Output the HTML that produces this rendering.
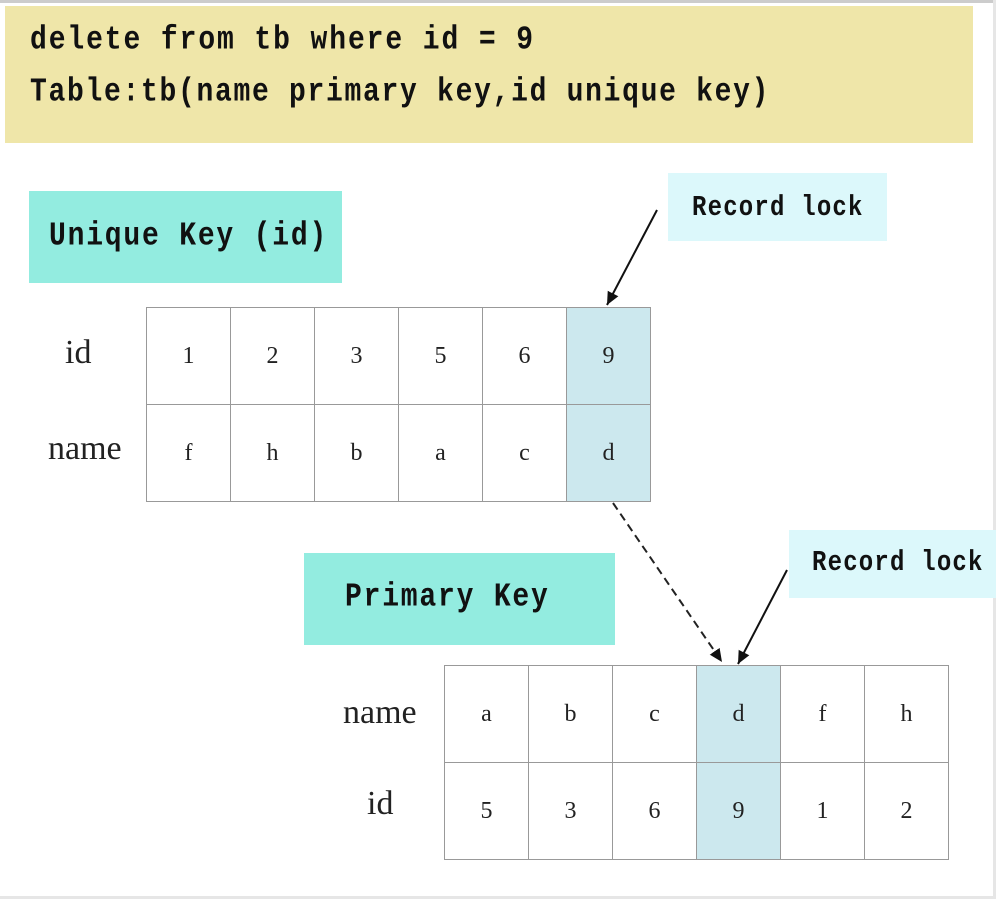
<!DOCTYPE html>
<html><head><style>
body{margin:0;width:996px;height:899px;background:#fff;position:relative;overflow:hidden;font-family:"Liberation Mono",monospace}
.a{position:absolute}
.m{font-family:"Liberation Mono",monospace;color:#111;font-weight:bold;transform-origin:0 50%;transform:scale(1,1.2)}
table{position:absolute;border-collapse:collapse}
td{border:1.5px solid #999;width:83px;height:96px;text-align:center;font-family:"Liberation Serif",serif;font-size:24px;color:#222;padding:0}
td.h{background:#cce8ee}
.lbl{position:absolute;font-family:"Liberation Serif",serif;font-size:34px;color:#222}
</style></head><body>
<div class="a" style="left:0;top:0;width:996px;height:3px;background:#ccc"></div>
<div class="a" style="left:993px;top:0;width:3px;height:899px;background:#e6e6e6"></div>
<div class="a" style="left:0;top:896px;width:996px;height:3px;background:#e6e6e6"></div>
<div class="a" style="left:5px;top:6px;width:968px;height:137px;background:#efe6a9"></div>
<div class="a m" style="left:30px;top:25px;font-size:28px;letter-spacing:1.9px">delete from tb where id = 9</div>
<div class="a m" style="left:30px;top:77px;font-size:28px;letter-spacing:1.7px">Table:tb(name primary key,id unique key)</div>
<div class="a" style="left:29px;top:191px;width:313px;height:92px;background:#93ece0"></div>
<div class="a m" style="left:49px;top:221px;font-size:28px;letter-spacing:1.8px">Unique Key (id)</div>
<div class="a" style="left:668px;top:173px;width:219px;height:68px;background:#dcf8fb"></div>
<div class="a m" style="left:692px;top:195px;font-size:24px;letter-spacing:1.2px">Record lock</div>
<div class="a" style="left:304px;top:553px;width:311px;height:92px;background:#93ece0"></div>
<div class="a m" style="left:345px;top:582px;font-size:28px;letter-spacing:1.8px">Primary Key</div>
<div class="a" style="left:789px;top:530px;width:207px;height:68px;background:#dcf8fb"></div>
<div class="a m" style="left:812px;top:550px;font-size:24px;letter-spacing:1.2px">Record lock</div>
<div class="lbl" style="left:65px;top:334px">id</div>
<div class="lbl" style="left:48px;top:430px">name</div>
<table style="left:146px;top:307px"><tr><td>1</td><td>2</td><td>3</td><td>5</td><td>6</td><td class="h">9</td></tr><tr><td>f</td><td>h</td><td>b</td><td>a</td><td>c</td><td class="h">d</td></tr></table>
<div class="lbl" style="left:343px;top:694px">name</div>
<div class="lbl" style="left:367px;top:785px">id</div>
<table style="left:444px;top:665px"><tr><td>a</td><td>b</td><td>c</td><td class="h">d</td><td>f</td><td>h</td></tr><tr><td>5</td><td>3</td><td>6</td><td class="h">9</td><td>1</td><td>2</td></tr></table>
<svg class="a" style="left:0;top:0" width="996" height="899">
<defs><marker id="ar2" markerWidth="14" markerHeight="14" refX="13" refY="7" orient="auto" markerUnits="userSpaceOnUse"><path d="M0,1 L13,7 L0,13 z" fill="#111"/></marker></defs>
<line x1="657" y1="210" x2="607" y2="305" stroke="#111" stroke-width="2" marker-end="url(#ar2)"/>
<line x1="613" y1="503" x2="722" y2="662" stroke="#222" stroke-width="2" stroke-dasharray="8,5" marker-end="url(#ar2)"/>
<line x1="787" y1="570" x2="738" y2="664" stroke="#111" stroke-width="2" marker-end="url(#ar2)"/>
</svg>
</body></html>
